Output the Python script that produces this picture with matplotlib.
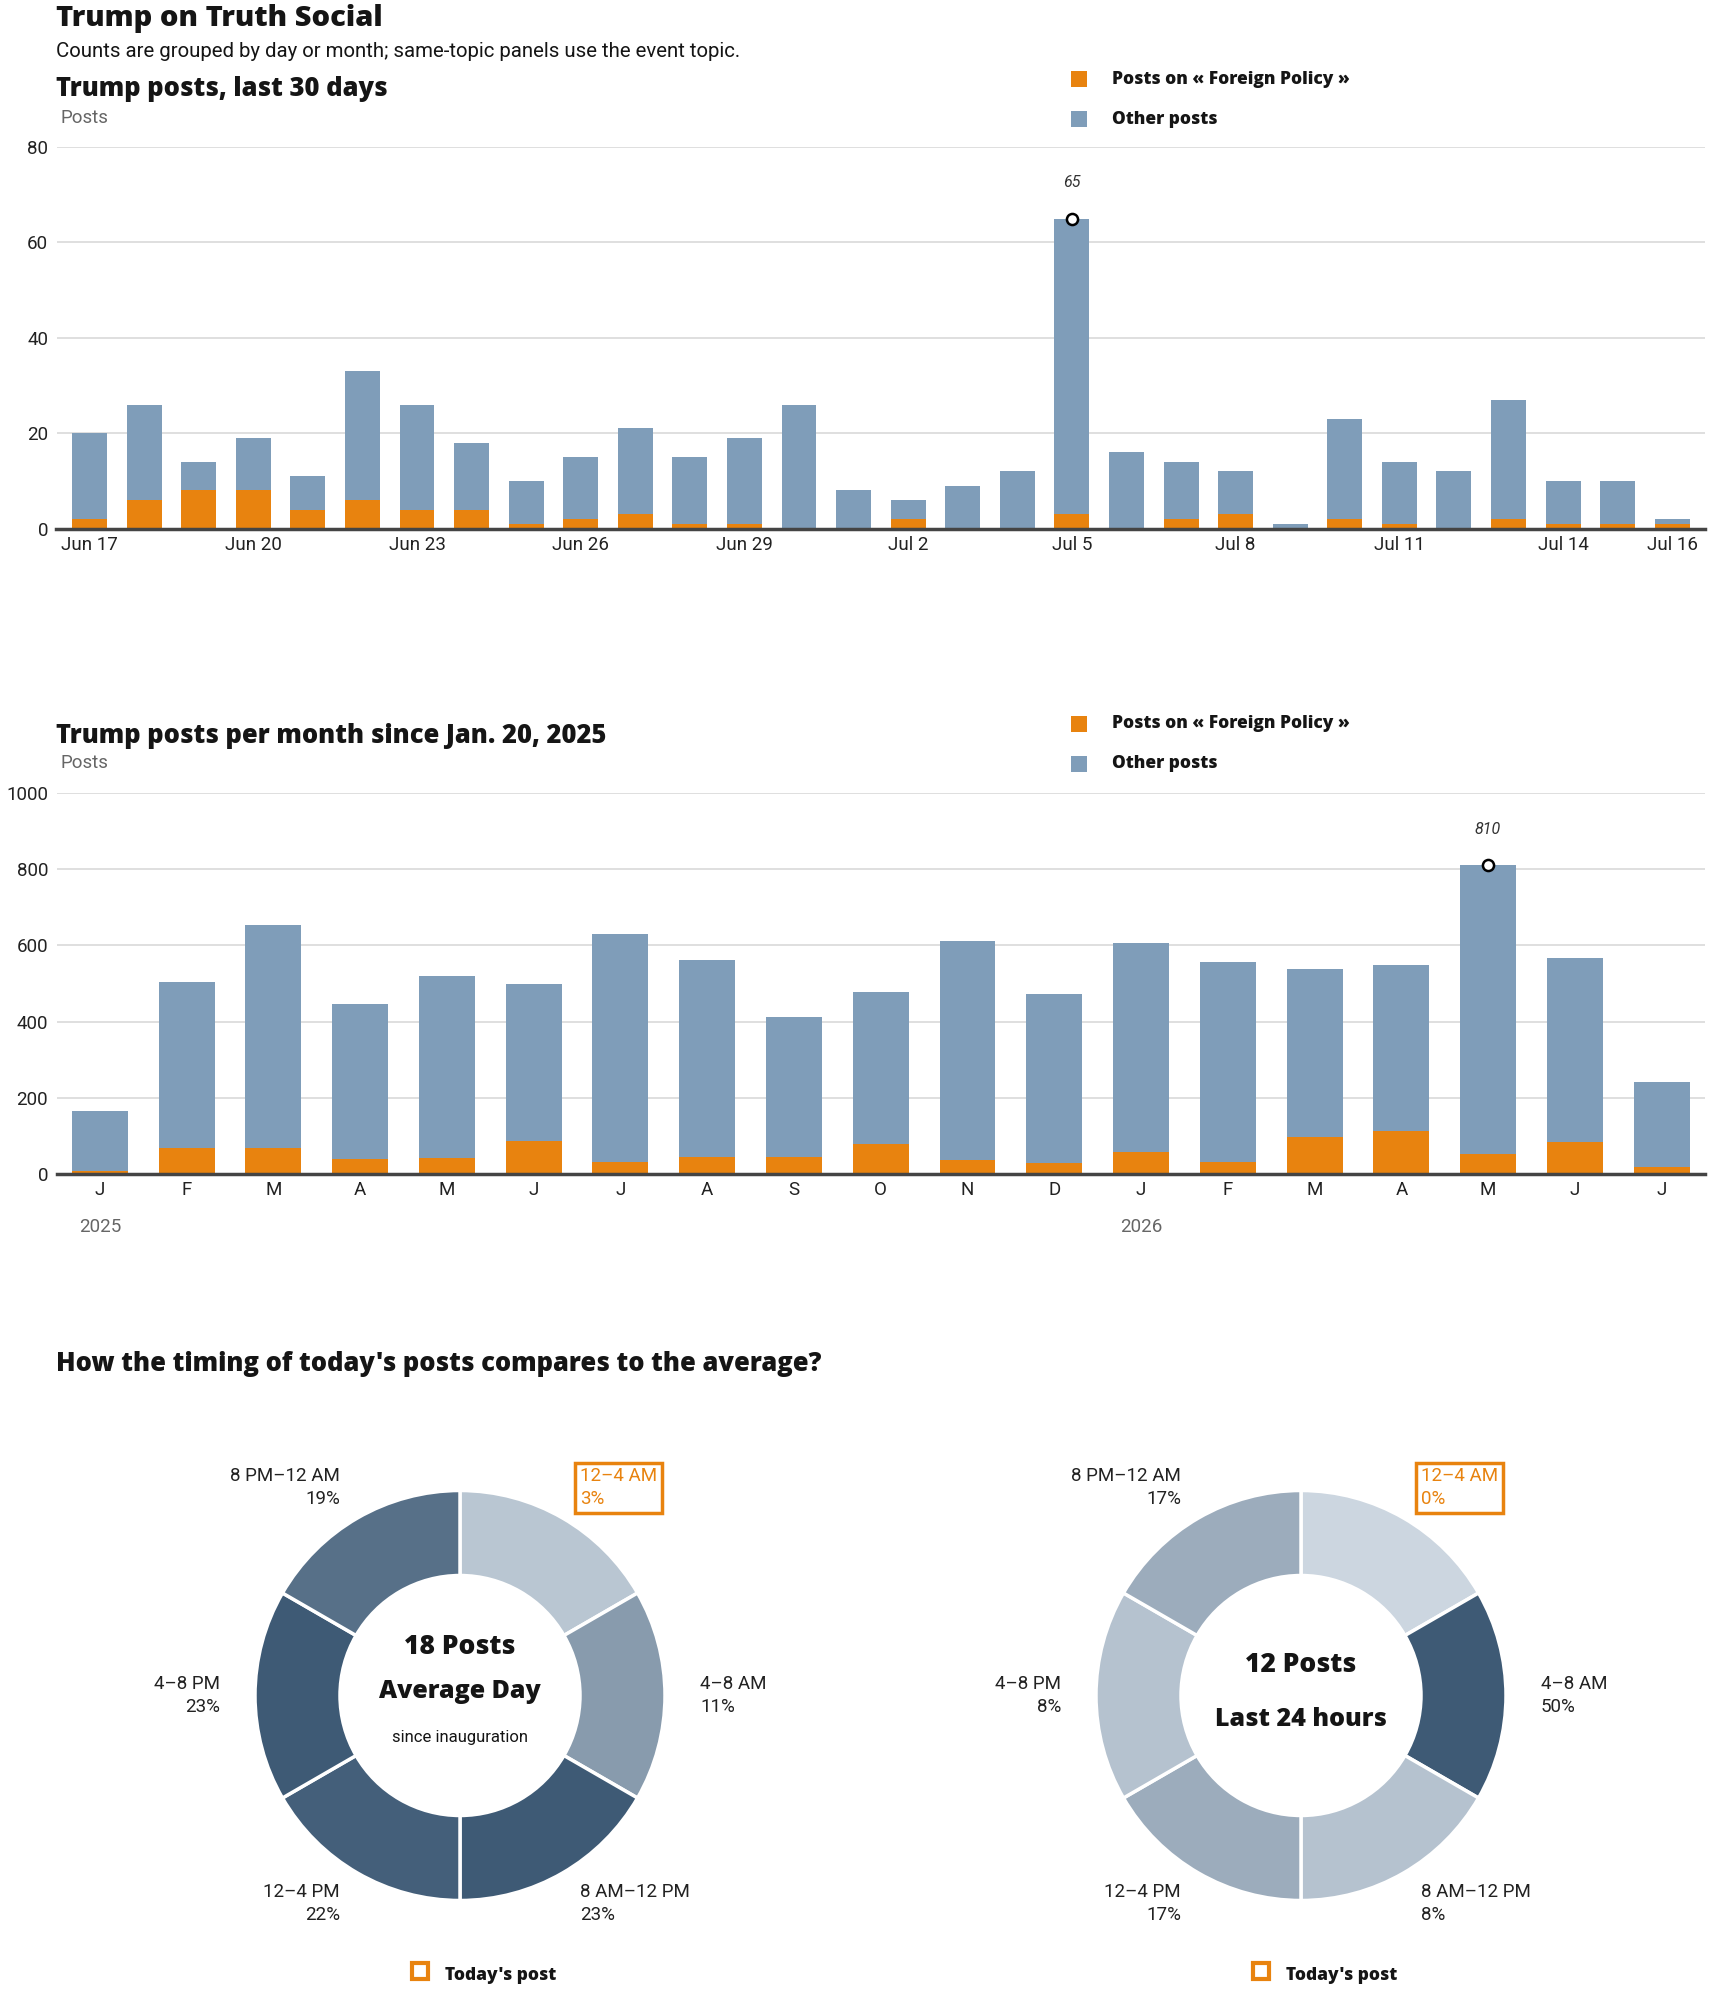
import matplotlib
matplotlib.use('Agg')
import matplotlib.pyplot as plt
import numpy as np
import pandas as pd
from matplotlib.patches import Rectangle

# --- data ---
day_start = '2026-06-17'
daily_total = [20, 26, 14, 19, 11, 33, 26, 18, 10, 15, 21, 15, 19, 26, 8,
               6, 9, 12, 65, 16, 14, 12, 1, 23, 14, 12, 27, 10, 10, 2]
daily_fp = [2, 6, 8, 8, 4, 6, 4, 4, 1, 2, 3, 1, 1, 0, 0,
            2, 0, 0, 3, 0, 2, 3, 0, 2, 1, 0, 2, 1, 1, 1]

month_start, month_end = '2025-01-01', '2026-07-01'
monthly_total = [165, 504, 654, 447, 520, 499, 630, 562, 412, 477, 612, 473,
                 607, 556, 538, 549, 810, 568, 241]
monthly_fp = [7, 69, 69, 39, 43, 86, 32, 45, 45, 79, 38, 30,
              58, 32, 96, 113, 53, 83, 19]

slot_names = ['12–4 AM', '4–8 AM', '8 AM–12 PM', '12–4 PM', '4–8 PM', '8 PM–12 AM']
slot_hours = [4, 4, 4, 4, 4, 4]
avg_share = [3, 11, 23, 22, 23, 19]
today_share = [0, 50, 8, 17, 8, 17]
current_slot = 0
avg_posts = 18
today_posts = 12

ORANGE = '#e8830f'
BLUE = '#7f9db9'
GRID = '#dcdcdc'
INK = '#151515'
LIGHT = np.array([204, 214, 224]) / 255
DARKB = np.array([62, 90, 117]) / 255

BODY = ['Roboto', 'DejaVu Sans']
HEAVY = dict(family=['Open Sans', 'DejaVu Sans'], weight='heavy')
plt.rcParams['font.family'] = BODY

W, H = 1710, 1993
fig = plt.figure(figsize=(W / 100, H / 100), dpi=100)


def axes_px(left, top, right, bottom):
    return fig.add_axes([left / W, 1 - bottom / H, (right - left) / W, (bottom - top) / H])


def ftext(x, y, s, **kw):
    return fig.text(x / W, 1 - y / H, s, **kw)


def fsquare(x, y, size, **kw):
    fig.add_artist(Rectangle((x / W, 1 - (y + size) / H), size / W, size / H,
                             transform=fig.transFigure, **kw))


def style_bar_axes(ax, ymax, step):
    ax.set_ylim(0, ymax)
    ax.set_yticks(np.arange(0, ymax + 1, step))
    ax.yaxis.grid(True, color=GRID, lw=1.3)
    ax.set_axisbelow(True)
    for s in ['top', 'right', 'left']:
        ax.spines[s].set_visible(False)
    ax.spines['bottom'].set_color('#444444')
    ax.spines['bottom'].set_linewidth(2.5)
    ax.tick_params(axis='y', length=0, pad=6, labelsize=13.5, labelcolor='#222222')
    ax.tick_params(axis='x', length=0, pad=5, labelsize=13.5, labelcolor='#222222')


def legend(y_top):
    fsquare(1071, y_top, 16, color=ORANGE, lw=0)
    fsquare(1071, y_top + 40, 16, color=BLUE, lw=0)
    ftext(1112, y_top + 8, 'Posts on « Foreign Policy »', fontsize=12.5, color=INK,
          va='center', **HEAVY)
    ftext(1112, y_top + 48, 'Other posts', fontsize=12.5, color=INK, va='center', **HEAVY)


def mark_max(ax, x, totals, dy):
    i = int(np.argmax(totals))
    ax.plot(x[i], totals[i], 'o', ms=8, mfc='white', mec='black', mew=1.8, clip_on=False, zorder=5)
    ax.annotate(str(totals[i]), xy=(x[i], totals[i]), xytext=(0, dy), textcoords='offset pixels',
                ha='center', va='center', fontsize=11.5, style='italic', color='#333333')


# --- header ---
ftext(56, 26, 'Trump on Truth Social', fontsize=21, color=INK, va='baseline', **HEAVY)
ftext(56, 57, 'Counts are grouped by day or month; same-topic panels use the event topic.',
      fontsize=14.7, color=INK, va='baseline')

# --- last 30 days ---
days = pd.date_range(day_start, periods=len(daily_total))
x1 = np.arange(len(daily_total))
other_daily = np.array(daily_total) - np.array(daily_fp)
ftext(56, 96, 'Trump posts, last 30 days', fontsize=18.4, color=INK, va='baseline', **HEAVY)
ftext(60, 123, 'Posts', fontsize=13.5, color='#666666', va='baseline')
legend(71)

ax1 = axes_px(56.5, 147, 1705, 528.6)
ax1.bar(x1, daily_fp, width=0.64, color=ORANGE, zorder=2)
ax1.bar(x1, other_daily, bottom=daily_fp, width=0.64, color=BLUE, zorder=2)
ax1.set_xlim(-0.605, 29.6)
style_bar_axes(ax1, 80, 20)
tick_idx = list(range(0, len(days), 3)) + [len(days) - 1]
ax1.set_xticks(tick_idx)
ax1.set_xticklabels([days[i].strftime('%b ') + str(days[i].day) for i in tick_idx])
mark_max(ax1, x1, daily_total, 36)

# --- per month ---
months = pd.date_range(month_start, month_end, freq='MS')
x2 = np.arange(len(months))
other_monthly = np.array(monthly_total) - np.array(monthly_fp)
ftext(56, 743, 'Trump posts per month since Jan. 20, 2025', fontsize=18.4, color=INK,
      va='baseline', **HEAVY)
ftext(60, 768, 'Posts', fontsize=13.5, color='#666666', va='baseline')
legend(716)

ax2 = axes_px(56.5, 793, 1705, 1174)
ax2.bar(x2, monthly_fp, width=0.645, color=ORANGE, zorder=2)
ax2.bar(x2, other_monthly, bottom=monthly_fp, width=0.645, color=BLUE, zorder=2)
ax2.set_xlim(-0.5, len(months) - 0.5)
style_bar_axes(ax2, 1000, 200)
ax2.set_xticks(x2)
ax2.set_xticklabels([m.strftime('%b')[0] for m in months])
for i, m in enumerate(months):
    if m.month == 1:
        ax2.text(i, -0.139, str(m.year), transform=ax2.get_xaxis_transform(), ha='center',
                 va='center', fontsize=13.5, color='#666666')
mark_max(ax2, x2, monthly_total, 36)

# --- timing donuts ---
ftext(56, 1371, "How the timing of today's posts compares to the average?", fontsize=18.4,
      color=INK, va='baseline', **HEAVY)


def donut(cx, cy, shares, center_lines):
    ax = axes_px(cx - 300, cy - 300, cx + 300, cy + 300)
    top = max(shares)
    colors = [tuple(LIGHT + (DARKB - LIGHT) * s / top) for s in shares]
    ax.pie(slot_hours, colors=colors, radius=205, startangle=90, counterclock=False,
           wedgeprops=dict(width=85, edgecolor='white', linewidth=2.5))
    ax.set_xlim(-300, 300)
    ax.set_ylim(-300, 300)
    ax.set_aspect('equal')
    ax.axis('off')
    for i, (name, s) in enumerate(zip(slot_names, shares)):
        theta = np.deg2rad(30 + 60 * i)
        lx, ly = 240 * np.sin(theta), 240 * np.cos(theta)
        ha = 'left' if lx > 0 else 'right'
        kw = dict(ha=ha, va='center', fontsize=13.5, linespacing=1.35, color='#222222')
        if i == current_slot:
            kw.update(color=ORANGE, bbox=dict(boxstyle='square,pad=0.25', fc='none',
                                              ec=ORANGE, lw=2.5))
        ax.text(lx, ly, f'{name}\n{s}%', **kw)
    for txt, dy, size, heavy in center_lines:
        extra = HEAVY if heavy else {}
        ax.text(0, dy, txt, ha='center', va='center', fontsize=size, color=INK, **extra)
    # "Today's post" key
    ax.add_patch(Rectangle((-48, -283), 16, 16, fill=False, ec=ORANGE, lw=3, clip_on=False))
    ax.text(-15, -280.5, "Today's post", ha='left', va='center', fontsize=12.5,
            color=INK, **HEAVY)


donut(460, 1695.5, avg_share, [(f'{avg_posts} Posts', 48, 19, True),
                               ('Average Day', 4, 18, True),
                               ('since inauguration', -42, 12, False)])
donut(1301, 1695.5, today_share, [(f'{today_posts} Posts', 30, 19, True),
                                  ('Last 24 hours', -23.5, 18, True)])

fig.savefig('out.png', dpi=100, facecolor='white')
